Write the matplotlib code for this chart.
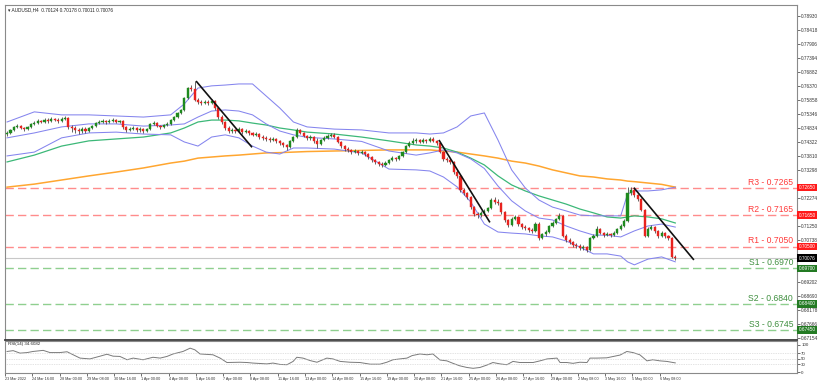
import matplotlib.pyplot as plt
from matplotlib.transforms import blended_transform_factory

plt.rcParams['font.family'] = ['Liberation Sans', 'DejaVu Sans']

# ---- AUDUSD H4 candles ----
first_open = 0.7461
closes = [0.7465, 0.7476, 0.7487, 0.7490, 0.7483, 0.7479, 0.7487, 0.7498, 0.7501, 0.7509,
          0.7505, 0.7512, 0.7509, 0.7516, 0.7512, 0.7509, 0.7516, 0.7520, 0.7487, 0.7483,
          0.7476, 0.7472, 0.7479, 0.7472, 0.7483, 0.7490, 0.7501, 0.7505, 0.7509, 0.7505,
          0.7509, 0.7512, 0.7505, 0.7509, 0.7487, 0.7476, 0.7479, 0.7483, 0.7476, 0.7479,
          0.7472, 0.7479, 0.7498, 0.7501, 0.7490, 0.7487, 0.7494, 0.7498, 0.7512, 0.7523,
          0.7538, 0.7549, 0.7593, 0.7629, 0.7626, 0.7585, 0.7578, 0.7574, 0.7578, 0.7574,
          0.7582, 0.7556, 0.7523, 0.7505, 0.7483, 0.7472, 0.7476, 0.7472, 0.7479, 0.7468,
          0.7472, 0.7465, 0.7458, 0.7461, 0.7450, 0.7447, 0.7443, 0.7439, 0.7443, 0.7436,
          0.7428, 0.7421, 0.7414, 0.7436, 0.7450, 0.7476, 0.7465, 0.7454, 0.7447, 0.7450,
          0.7436, 0.7425, 0.7439, 0.7447, 0.7454, 0.7458, 0.7450, 0.7432, 0.7417, 0.7406,
          0.7403, 0.7395, 0.7399, 0.7392, 0.7395, 0.7388, 0.7377, 0.7366, 0.7359, 0.7352,
          0.7348, 0.7355, 0.7366, 0.7373, 0.7370, 0.7381, 0.7395, 0.7417, 0.7428, 0.7436,
          0.7439, 0.7432, 0.7439, 0.7436, 0.7443, 0.7436, 0.7428, 0.7395, 0.7370, 0.7366,
          0.7359, 0.7322, 0.7308, 0.7257, 0.7246, 0.7231, 0.7194, 0.7169, 0.7165, 0.7173,
          0.7180, 0.7191, 0.7220, 0.7213, 0.7209, 0.7176, 0.7147, 0.7129, 0.7151, 0.7158,
          0.7132, 0.7121, 0.7118, 0.7110, 0.7107, 0.7132, 0.7081, 0.7096, 0.7103, 0.7125,
          0.7136, 0.7151, 0.7162, 0.7089, 0.7074, 0.7067, 0.7056, 0.7052, 0.7045, 0.7048,
          0.7037, 0.7081, 0.7089, 0.7114, 0.7099, 0.7092, 0.7096, 0.7092, 0.7099, 0.7114,
          0.7125, 0.7143, 0.7246, 0.7257, 0.7238, 0.7224, 0.7184, 0.7089, 0.7114, 0.7121,
          0.7107, 0.7089, 0.7099, 0.7089, 0.7081, 0.70124, 0.70076]
highs = [0.7472, 0.7481, 0.7492, 0.7498, 0.7495, 0.7488, 0.7491, 0.7503, 0.7507, 0.7516,
         0.7514, 0.7519, 0.7518, 0.7523, 0.7521, 0.7518, 0.7522, 0.7527, 0.7524, 0.7494,
         0.7490, 0.7484, 0.7487, 0.7485, 0.7488, 0.7495, 0.7506, 0.7512, 0.7516, 0.7514,
         0.7515, 0.7519, 0.7517, 0.7514, 0.7512, 0.7490, 0.7486, 0.7489, 0.7487, 0.7485,
         0.7484, 0.7484, 0.7503, 0.7507, 0.7505, 0.7494, 0.7498, 0.7504, 0.7516, 0.7527,
         0.7542, 0.7553, 0.7598, 0.7633, 0.7640, 0.7655, 0.7593, 0.7586, 0.7584, 0.7585,
         0.7589, 0.7586, 0.7560, 0.7530, 0.7509, 0.7490, 0.7483, 0.7481, 0.7486, 0.7484,
         0.7479, 0.7477, 0.7469, 0.7468, 0.7465, 0.7456, 0.7453, 0.7450, 0.7449, 0.7448,
         0.7440, 0.7433, 0.7425, 0.7440, 0.7455, 0.7482, 0.7481, 0.7470, 0.7458, 0.7456,
         0.7454, 0.7445, 0.7444, 0.7452, 0.7460, 0.7465, 0.7463, 0.7454, 0.7436, 0.7421,
         0.7412, 0.7408, 0.7405, 0.7404, 0.7401, 0.7399, 0.7392, 0.7381, 0.7370, 0.7363,
         0.7358, 0.7361, 0.7371, 0.7379, 0.7378, 0.7386, 0.7400, 0.7422, 0.7434, 0.7447,
         0.7446, 0.7444, 0.7445, 0.7444, 0.7450, 0.7449, 0.7441, 0.7432, 0.7399, 0.7377,
         0.7372, 0.7363, 0.7329, 0.7312, 0.7264, 0.7251, 0.7235, 0.7198, 0.7176, 0.7180,
         0.7187, 0.7196, 0.7227, 0.7231, 0.7222, 0.7213, 0.7180, 0.7152, 0.7158, 0.7164,
         0.7162, 0.7136, 0.7128, 0.7123, 0.7116, 0.7140, 0.7140, 0.7101, 0.7110, 0.7130,
         0.7142, 0.7156, 0.7172, 0.7166, 0.7095, 0.7080, 0.7071, 0.7063, 0.7058, 0.7054,
         0.7052, 0.7085, 0.7096, 0.7125, 0.7118, 0.7104, 0.7102, 0.7101, 0.7105, 0.7119,
         0.7131, 0.7150, 0.7266, 0.7266, 0.7262, 0.7243, 0.7228, 0.7188, 0.7120, 0.7129,
         0.7126, 0.7112, 0.7105, 0.7104, 0.7092, 0.7085, 0.70178]
lows = [0.7455, 0.7462, 0.7472, 0.7483, 0.7478, 0.7472, 0.7476, 0.7484, 0.7494, 0.7497,
        0.7500, 0.7502, 0.7503, 0.7505, 0.7507, 0.7502, 0.7505, 0.7512, 0.7480, 0.7470,
        0.7465, 0.7462, 0.7466, 0.7463, 0.7468, 0.7478, 0.7486, 0.7496, 0.7500, 0.7499,
        0.7501, 0.7505, 0.7500, 0.7501, 0.7481, 0.7470, 0.7471, 0.7474, 0.7469, 0.7470,
        0.7466, 0.7468, 0.7476, 0.7494, 0.7485, 0.7481, 0.7483, 0.7490, 0.7494, 0.7509,
        0.7520, 0.7534, 0.7545, 0.7589, 0.7618, 0.7580, 0.7571, 0.7568, 0.7569, 0.7567,
        0.7570, 0.7549, 0.7516, 0.7498, 0.7476, 0.7465, 0.7466, 0.7465, 0.7468, 0.7461,
        0.7463, 0.7458, 0.7452, 0.7453, 0.7444, 0.7440, 0.7436, 0.7432, 0.7434, 0.7429,
        0.7421, 0.7412, 0.7403, 0.7410, 0.7432, 0.7446, 0.7460, 0.7449, 0.7440, 0.7441,
        0.7430, 0.7410, 0.7420, 0.7435, 0.7443, 0.7450, 0.7445, 0.7427, 0.7411, 0.7400,
        0.7397, 0.7389, 0.7390, 0.7386, 0.7387, 0.7382, 0.7371, 0.7360, 0.7352, 0.7345,
        0.7340, 0.7343, 0.7350, 0.7362, 0.7363, 0.7366, 0.7377, 0.7391, 0.7412, 0.7424,
        0.7430, 0.7427, 0.7428, 0.7430, 0.7432, 0.7431, 0.7422, 0.7390, 0.7363, 0.7359,
        0.7351, 0.7315, 0.7300, 0.7250, 0.7238, 0.7224, 0.7187, 0.7160, 0.7155, 0.7158,
        0.7165, 0.7176, 0.7187, 0.7207, 0.7202, 0.7170, 0.7140, 0.7121, 0.7125, 0.7146,
        0.7125, 0.7114, 0.7110, 0.7103, 0.7100, 0.7103, 0.7074, 0.7077, 0.7090, 0.7099,
        0.7120, 0.7131, 0.7147, 0.7083, 0.7067, 0.7060, 0.7049, 0.7045, 0.7038, 0.7038,
        0.7030, 0.7033, 0.7077, 0.7085, 0.7094, 0.7086, 0.7087, 0.7086, 0.7088, 0.7095,
        0.7110, 0.7120, 0.7138, 0.7240, 0.7232, 0.7217, 0.7178, 0.7083, 0.7085, 0.7109,
        0.7100, 0.7082, 0.7084, 0.7082, 0.7074, 0.7008, 0.70011]
opens = [first_open] + closes[:-1]

# ---- indicators (sampled off the chart at these bars) ----
ind_bars = [0, 8, 16, 24, 32, 40, 48, 52, 56, 60, 64, 68, 72, 76, 80, 84, 88, 96, 104, 112,
            120, 124, 128, 132, 136, 140, 144, 148, 152, 156, 160, 164, 168, 172, 176, 180,
            182, 184, 188, 192, 196]
bb_upper = [0.7505, 0.7542, 0.7531, 0.7531, 0.7527, 0.7523, 0.7531, 0.7571, 0.7629, 0.7637,
            0.7640, 0.7644, 0.7644, 0.7600, 0.7556, 0.7505, 0.7487, 0.7479, 0.7476, 0.7465,
            0.7465, 0.7461, 0.7465, 0.7487, 0.7527, 0.7538, 0.7439, 0.7330, 0.7264, 0.7220,
            0.7194, 0.7180, 0.7165, 0.7162, 0.7162, 0.7162, 0.7242, 0.7253, 0.7253, 0.7257,
            0.7267]
bb_mid = [0.7447, 0.7465, 0.7487, 0.7498, 0.7498, 0.7490, 0.7494, 0.7498, 0.7523, 0.7545,
          0.7549, 0.7545, 0.7531, 0.7498, 0.7472, 0.7458, 0.7449, 0.7443, 0.7434, 0.7399,
          0.7384, 0.7392, 0.7403, 0.7392, 0.7370, 0.7335, 0.7271, 0.7217, 0.7180, 0.7154,
          0.7147, 0.7125, 0.7107, 0.7092, 0.7091, 0.7085, 0.7096, 0.7107, 0.7125, 0.7132,
          0.7121]
bb_lower = [0.7381, 0.7395, 0.7447, 0.7465, 0.7468, 0.7461, 0.7458, 0.7432, 0.7417, 0.7450,
            0.7458, 0.7447, 0.7417, 0.7395, 0.7388, 0.7410, 0.7410, 0.7406, 0.7392, 0.7333,
            0.7330, 0.7326, 0.7304, 0.7268, 0.7213, 0.7132, 0.7103, 0.7099, 0.7096, 0.7089,
            0.7085, 0.7070, 0.7048, 0.7023, 0.7023, 0.7015, 0.6994, 0.6983, 0.7004, 0.7012,
            0.6994]
ma_green = [0.7359, 0.7384, 0.7417, 0.7436, 0.7443, 0.7450, 0.7465, 0.7483, 0.7505, 0.7512,
            0.7512, 0.7509, 0.7501, 0.7494, 0.7483, 0.7476, 0.7468, 0.7461, 0.7450, 0.7436,
            0.7421, 0.7417, 0.7410, 0.7395, 0.7373, 0.7348, 0.7308, 0.7275, 0.7253, 0.7235,
            0.7220, 0.7205, 0.7187, 0.7173, 0.7158, 0.7154, 0.7158, 0.7162, 0.7158, 0.7151,
            0.7136]
ma_orange = [0.7267, 0.7278, 0.7293, 0.7308, 0.7322, 0.7337, 0.7355, 0.7362, 0.7373, 0.7377,
             0.7381, 0.7384, 0.7388, 0.7392, 0.7393, 0.7395, 0.7397, 0.7399, 0.7401, 0.7403,
             0.7403, 0.7403, 0.7399, 0.7395, 0.7388, 0.7381, 0.7373, 0.7362, 0.7355, 0.7344,
             0.7330, 0.7319, 0.7308, 0.7304, 0.7297, 0.7293, 0.7289, 0.7287, 0.7282, 0.7277,
             0.7267]

rsi_bars = [0, 1.8, 3.8, 5.9, 7.6, 10.6, 12.6, 15.5, 17.6, 19.4, 21.4, 24.3, 27.3, 29.3, 31.1,
            33.1, 35.2, 37, 39.9, 42.8, 44.9, 46.9, 48.7, 51.6, 53.7, 55.1, 56.6, 60.4, 62.5,
            64.5, 68.3, 70.4, 72.1, 76.2, 78, 80.1, 82.1, 83.9, 85, 86.8, 88.9, 90.9, 93.8,
            95.6, 97.7, 100.6, 103.5, 106.5, 109.4, 111.4, 113.2, 115.2, 117.3, 118.8, 121.1,
            123.2, 124.9, 127, 129, 130.8, 132.8, 134.9, 136.7, 138.7, 140.8, 142.5, 144.6,
            146.6, 148.4, 150.4, 152.5, 154.3, 156.3, 158.4, 161.3, 162.2, 164.2, 166, 168,
            170.1, 171, 173, 175.9, 179.8, 181.8, 183.6, 185.6, 187.7, 189.4, 191.5, 193.5, 196]
rsi_vals = [76, 79, 70, 72, 76, 80, 72, 72, 75, 64, 52, 49, 59, 66, 59,
            58, 46, 52, 46, 55, 52, 58, 67, 76, 88, 82, 67, 64, 52,
            36, 37, 36, 34, 31, 34, 29, 28, 40, 55, 52, 43, 37, 52,
            49, 40, 37, 36, 30, 30, 37, 46, 49, 52, 61, 67,
            64, 67, 45, 42, 33, 24, 18, 15, 18, 27, 36, 31,
            28, 40, 36, 36, 36, 42, 49, 52, 36, 36, 33, 37,
            36, 52, 52, 53, 63, 76, 72, 64, 42, 46, 42, 40, 34.6]

levels = [0.7265, 0.7165, 0.7050, 0.6970, 0.6840, 0.6745]
level_names = ['R3', 'R2', 'R1', 'S1', 'S2', 'S3']
last_price = 0.70076

trend_lines = [([55.6, 71.7], [0.76523, 0.74148]),
               ([126.8, 141.5], [0.74367, 0.71407]),
               ([184.0, 201.3], [0.72627, 0.70033])]

price_ticks = [0.78930, 0.78418, 0.77906, 0.77394, 0.76882, 0.76370, 0.75858, 0.75346,
               0.74834, 0.74322, 0.73810, 0.73298, 0.72786, 0.72274, 0.71762, 0.71250,
               0.70738, 0.70226, 0.69714, 0.69202, 0.68690, 0.68178, 0.67666, 0.67154]

date_labels = ['23 Mar 2022', '24 Mar 16:00', '28 Mar 00:00', '29 Mar 08:00', '30 Mar 16:00',
               '1 Apr 00:00', '4 Apr 08:00', '5 Apr 16:00', '7 Apr 00:00', '8 Apr 08:00',
               '11 Apr 16:00', '13 Apr 00:00', '14 Apr 08:00', '15 Apr 16:00', '19 Apr 00:00',
               '20 Apr 08:00', '21 Apr 16:00', '25 Apr 00:00', '26 Apr 08:00', '27 Apr 16:00',
               '29 Apr 00:00', '2 May 08:00', '3 May 16:00', '5 May 00:00', '6 May 08:00']

# ---- figure ----
fig = plt.figure(figsize=(8.25, 3.83), dpi=100)
ax = fig.add_axes([0.00606, 0.11227, 0.96, 0.8747])
ax2 = fig.add_axes([0.00606, 0.0261, 0.96, 0.0836])

xlim = (-0.6, 231.7)
red_c = '#e8231f'
green_c = '#1e8a1e'

for o, h, l, c, i in zip(opens, highs, lows, closes, range(len(closes))):
    col = green_c if c >= o else red_c
    ax.vlines(i, l, h, color='#4a4a4a', lw=0.6, zorder=3)
    ax.bar(i, max(abs(c - o), 0.00006), bottom=min(o, c), width=0.62,
           color=col, edgecolor=col, lw=0.3, zorder=4)

ax.plot(ind_bars, ma_orange, color='#ffa630', lw=1.1, zorder=2)
ax.plot(ind_bars, ma_green, color='#3cb878', lw=0.9, zorder=2)
for band in (bb_upper, bb_mid, bb_lower):
    ax.plot(ind_bars, band, color='#8585ee', lw=0.75, zorder=2)

for xs, ys in trend_lines:
    ax.plot(xs, ys, color='#111111', lw=1.2, zorder=5)

ax.axhline(last_price, color='#c8c8c8', lw=0.8, zorder=1)

tr = blended_transform_factory(ax.transAxes, ax.transData)
for name, lv in zip(level_names, levels):
    if name.startswith('R'):
        lc, tc, bg = '#ff8c8c', '#ff3b3b', '#ff1a1a'
    else:
        lc, tc, bg = '#8fcf8f', '#3f8f3f', '#237a23'
    ax.axhline(lv, color=lc, lw=1.0, ls=(0, (6, 3)), zorder=1)
    ax.text(0.995, lv + 0.0004, f'{name} - {lv:.4f}', transform=tr, ha='right', va='bottom',
            fontsize=6.2, color=tc, zorder=6)
    ax.text(1.002, lv, f'{lv:.5f}', transform=tr, ha='left', va='center', fontsize=3.4,
            color='white', clip_on=False,
            bbox=dict(boxstyle='square,pad=0.25', fc=bg, ec='none'))
ax.text(1.002, last_price, f'{last_price:.5f}', transform=tr, ha='left', va='center',
        fontsize=3.4, color='white', clip_on=False,
        bbox=dict(boxstyle='square,pad=0.25', fc='black', ec='none'))

ax.set_xlim(*xlim)
ax.set_ylim(0.67084, 0.79325)
ax.yaxis.tick_right()
tags = levels + [last_price]
shown = [t for t in price_ticks if min(abs(t - g) for g in tags) > 0.0017]
ax.set_yticks(shown)
ax.set_yticklabels([f'{t:.5f}' for t in shown])
ax.tick_params(axis='y', labelsize=3.4, length=2, width=0.5, pad=1, colors='#333333')
ax.set_xticks([])
for s in ax.spines.values():
    s.set_color('#8a8a8a')
    s.set_linewidth(0.8)
ax.spines['bottom'].set_color('#3c3c3c')
ax.spines['bottom'].set_linewidth(1.3)
ax.text(0.004, 0.992, '\u25be AUDUSD,H4  0.70124 0.70178 0.70011 0.70076', transform=ax.transAxes,
        ha='left', va='top', fontsize=3.4, color='#222222')

# ---- RSI panel ----
ax2.plot(rsi_bars, rsi_vals, color='#7a7a7a', lw=0.7)
for lv in (70, 50, 30):
    ax2.axhline(lv, color='#c8c8c8', lw=0.5, ls=(0, (1, 1.5)))
ax2.set_xlim(*xlim)
ax2.set_ylim(-2, 114)
ax2.yaxis.tick_right()
ax2.set_yticks([100, 70, 50, 30, 0])
ax2.set_yticklabels(['100', '70', '50', '30', '0'])
ax2.tick_params(axis='y', labelsize=3.2, length=2, width=0.5, pad=1, colors='#333333')
date_pos = [8 * k - 0.6 for k in range(len(date_labels))]
ax2.set_xticks(date_pos)
ax2.set_xticklabels(date_labels, ha='left')
ax2.tick_params(axis='x', labelsize=2.7, length=2, width=0.5, pad=0.8, colors='#333333')
for s in ax2.spines.values():
    s.set_color('#8a8a8a')
    s.set_linewidth(0.8)
ax2.text(0.004, 0.97, 'RSI(14) 34.6082', transform=ax2.transAxes, ha='left', va='top',
         fontsize=3.2, color='#222222')

fig.savefig('out.png', dpi=100, facecolor='white')
